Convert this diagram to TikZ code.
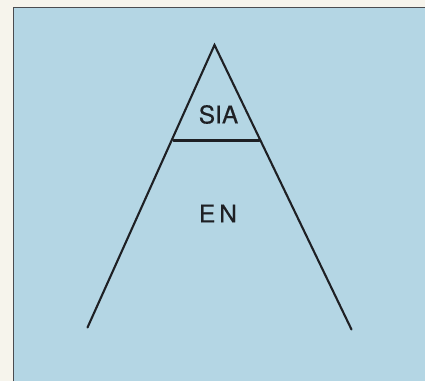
\documentclass[tikz,border=0pt]{standalone}
\usepackage{fontspec}
\setmainfont{TeX Gyre Heros}
\definecolor{paper}{RGB}{246,244,236}
\definecolor{panel}{RGB}{180,214,228}
\definecolor{ink}{RGB}{30,32,36}
\begin{document}
\begin{tikzpicture}[x=1pt,y=1pt,
  edge/.style={draw=ink,line width=2.1pt,line cap=round,line join=miter},
  lbl/.style={font=\fontsize{24.5}{24.5}\selectfont,text=ink,inner sep=0pt}]
\useasboundingbox (0,0) rectangle (425,381);
\fill[paper] (0,0) rectangle (425,381);
\fill[panel] (13.5,0) rectangle (425,373.5);
\draw[ink!80,line width=1pt] (13.5,0) -- (13.5,373.5) -- (425,373.5);
\coordinate (apex) at (214.5,336);
\coordinate (bl) at (87.5,53.5);
\coordinate (br) at (351.5,51.5);
\coordinate (cl) at (173.5,240.5);
\coordinate (cr) at (259.5,240.5);
\draw[edge] (bl) -- (apex) -- (br);
\draw[edge] (cl) -- (cr);
\node[lbl] (sia) at (218.5,266.5) {\addfontfeature{FakeBold=0.4}SIA};
\node[lbl] (en) at (218,167.5) {\addfontfeature{FakeBold=0.4}E\hspace{4pt}N};
\end{tikzpicture}
\end{document}
